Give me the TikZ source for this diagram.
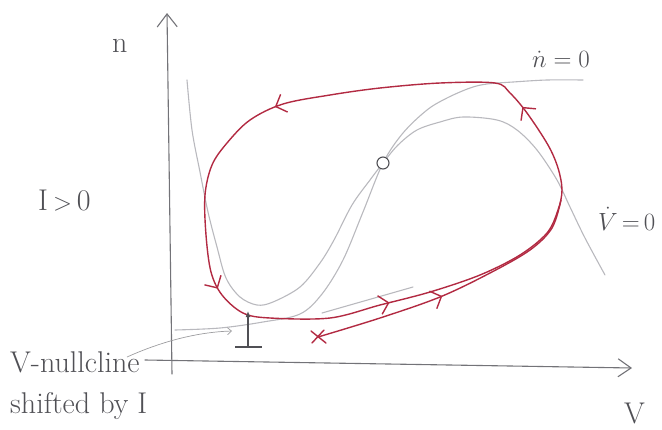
\documentclass[tikz,border=0pt]{standalone}
\usetikzlibrary{arrows.meta,decorations.markings}
\definecolor{cyc}{RGB}{178,42,66}
\definecolor{pencil}{RGB}{115,115,120}
\definecolor{lightg}{RGB}{185,185,190}
\definecolor{txt}{RGB}{80,80,85}
\begin{document}
\begin{tikzpicture}[x=1pt,y=-1pt,
  cyc line/.style={draw=cyc, line width=1.4pt, line cap=round, line join=round},
  nullc/.style={draw=lightg, line width=1.1pt, line cap=round},
  axis/.style={draw=pencil, line width=1.1pt, line cap=round},
  lbl/.style={text=txt, inner sep=0pt, anchor=base west, font=\fontsize{30}{36}\selectfont},
  cbarb/.style={cyc, line width=1.4pt},
  midbarb/.style={postaction={decorate}, decoration={markings, mark=at position #1 with {\arrow[cbarb]{Straight Barb[length=9pt,width=19pt]}}}}
]
\useasboundingbox (0,0) rectangle (662,429);

% axes
\coordinate (yb) at (172,374);
\coordinate (yt) at (167,13);
\coordinate (xl) at (145,360);
\coordinate (xr) at (632,368);
\draw[axis, -{Straight Barb[length=13pt,width=20pt,line width=1.1pt]}] (yb) -- (yt);
\draw[axis, -{Straight Barb[length=13pt,width=18pt,line width=1.1pt]}] (xl) -- (xr);

% nullclines
\draw[nullc] plot[smooth, tension=0.55] coordinates {(187,80) (192,130) (200,172) (208,212) (217,247) (226,278) (240,297) (257,305) (273,302) (300,287) (320,263) (334,240) (352,205) (370,180) (383,163) (398,145) (417,130) (440,122) (463,117) (497,120) (517,130) (537,150) (557,180) (570,207) (585,238) (605,275)};
\draw[nullc] plot[smooth, tension=0.55] coordinates {(175,330) (220,328) (263,322) (300,314) (322,294) (343,260) (363,212) (383,163) (403,133) (427,110) (447,98) (470,88) (487,84) (513,82) (547,80) (583,80)};
\draw[nullc] (322,313) -- (413,287);

% limit cycle
\draw[cyc line, postaction={decorate, decoration={markings,
    mark=at position 0.172 with {\arrow[cbarb]{Straight Barb[length=9pt,width=19pt]}},
    mark=at position 0.392 with {\arrow[cbarb]{Straight Barb[length=9pt,width=19pt]}},
    mark=at position 0.582 with {\arrow[cbarb]{Straight Barb[length=9pt,width=19pt]}},
    mark=at position 0.905 with {\arrow[cbarb]{Straight Barb[length=9pt,width=19pt]}}}}]
  plot[smooth cycle, tension=0.55] coordinates {(495,83) (440,83) (380,88) (330,95) (283,104) (250,120) (227,143) (212,165) (205,195) (206,235) (211,272) (222,295) (243,313) (270,318) (330,318) (380,305) (430,292) (480,275) (520,255) (547,233) (558,210) (562,190) (558,168) (548,145) (527,113) (510,93)};

% trajectory from x
\draw[cyc line, midbarb=0.45] plot[smooth, tension=0.55] coordinates {(318,337) (380,318) (440,297) (490,273) (530,250) (552,228) (561,200)};
\coordinate (xa) at (311,331); \coordinate (xb) at (326,343);
\coordinate (xc) at (312,343); \coordinate (xd) at (324,330);
\draw[cyc line] (xa) -- (xb) (xc) -- (xd);

% fixed point
\node[circle, draw=txt, fill=white, line width=1.1pt, minimum size=12pt, inner sep=0pt] (fp) at (383,163) {};

% shift I annotation
\coordinate (Ib) at (248,347);
\coordinate (It) at (248,311);
\draw[txt, line width=1.1pt, -{Latex[length=6pt,width=5pt]}] (Ib) -- (It);
\coordinate (Il) at (235,347); \coordinate (Ir) at (262,347);
\draw[txt, line width=1.1pt] (Il) -- (Ir);

% labels
\node[lbl] (ln) at (112,52) {n};
\node[lbl] (lI) at (38,210) {I\,$>$\,0};
\node[lbl, font=\fontsize{28}{32}\selectfont] (lndot) at (532,67) {$\dot{n}\;{=}\;0$};
\node[lbl, font=\fontsize{26}{30}\selectfont] (lvdot) at (598,230) {$\dot{V}\,{=}\,0$};
\node[lbl] (lv) at (624,423) {V};
\node[lbl] (lnull) at (10,372) {V-nullcline};
\node[lbl] (lshift) at (10,413) {shifted by I};
\coordinate (as) at (127,357);
\coordinate (ae) at (232,331);
\draw[pencil!70, line width=0.7pt, -{Straight Barb[length=4pt,width=7pt]}] (as) .. controls (165,340) and (200,332) .. (ae);
\end{tikzpicture}
\end{document}
